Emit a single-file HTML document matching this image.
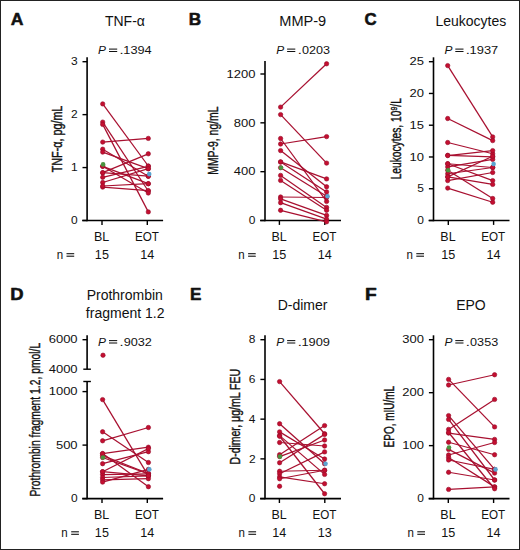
<!DOCTYPE html>
<html><head><meta charset="utf-8"><style>
html,body{margin:0;padding:0;background:#fff;}
svg{display:block;}
svg text{font-family:"Liberation Sans", sans-serif;fill:#111;}
</style></head><body>
<svg width="520" height="550" viewBox="0 0 520 550">
<rect x="0" y="0" width="520" height="550" fill="#fff"/>
<text x="10.71" y="25.20" font-size="17.0" font-weight="bold" font-style="normal" textLength="12.70" lengthAdjust="spacingAndGlyphs" stroke="#111" stroke-width="0.55" stroke-linejoin="round">A</text>
<text x="104.96" y="25.90" font-size="14" font-weight="normal" font-style="normal" textLength="39.97" lengthAdjust="spacingAndGlyphs" >TNF-α</text>
<text x="98.13" y="54.00" font-size="11.5" font-weight="normal" font-style="italic" textLength="7.94" lengthAdjust="spacingAndGlyphs" >P</text>
<line x1="109.00" y1="49.10" x2="117.20" y2="49.10" stroke="#111" stroke-width="1.05"/>
<line x1="109.00" y1="51.50" x2="117.20" y2="51.50" stroke="#111" stroke-width="1.05"/>
<text x="119.56" y="54.00" font-size="11.5" font-weight="normal" font-style="normal" textLength="4.09" lengthAdjust="spacingAndGlyphs" >.</text>
<text x="123.33" y="54.00" font-size="11.5" font-weight="normal" font-style="normal" textLength="28.34" lengthAdjust="spacingAndGlyphs" >1394</text>
<line x1="87.10" y1="57.30" x2="87.10" y2="221.25" stroke="#000" stroke-width="1.6"/>
<line x1="82.50" y1="220.50" x2="87.10" y2="220.50" stroke="#000" stroke-width="1.4"/>
<text x="70.91" y="224.20" font-size="11.4" font-weight="normal" font-style="normal" textLength="6.66" lengthAdjust="spacingAndGlyphs" >0</text>
<line x1="82.50" y1="167.57" x2="87.10" y2="167.57" stroke="#000" stroke-width="1.4"/>
<text x="71.03" y="171.27" font-size="11.4" font-weight="normal" font-style="normal" textLength="6.66" lengthAdjust="spacingAndGlyphs" >1</text>
<line x1="82.50" y1="114.63" x2="87.10" y2="114.63" stroke="#000" stroke-width="1.4"/>
<text x="71.04" y="118.33" font-size="11.4" font-weight="normal" font-style="normal" textLength="6.66" lengthAdjust="spacingAndGlyphs" >2</text>
<line x1="82.50" y1="61.70" x2="87.10" y2="61.70" stroke="#000" stroke-width="1.4"/>
<text x="70.97" y="65.40" font-size="11.4" font-weight="normal" font-style="normal" textLength="6.66" lengthAdjust="spacingAndGlyphs" >3</text>
<line x1="82.20" y1="220.50" x2="163.10" y2="220.50" stroke="#000" stroke-width="1.6"/>
<line x1="102.00" y1="220.50" x2="102.00" y2="224.90" stroke="#000" stroke-width="1.4"/>
<line x1="147.30" y1="220.50" x2="147.30" y2="224.90" stroke="#000" stroke-width="1.4"/>
<text transform="translate(61.60,172.00) rotate(-90)" x="-0.24" y="0" font-size="13.8" textLength="66.55" lengthAdjust="spacingAndGlyphs" stroke="#111" stroke-width="0.4">TNF-α, pg/mL</text>
<line x1="102.70" y1="103.90" x2="148.30" y2="166.00" stroke="#a81030" stroke-width="1.25"/>
<line x1="102.70" y1="122.10" x2="148.30" y2="191.00" stroke="#a81030" stroke-width="1.25"/>
<line x1="102.70" y1="124.40" x2="148.30" y2="211.90" stroke="#a81030" stroke-width="1.25"/>
<line x1="102.70" y1="142.10" x2="148.30" y2="138.40" stroke="#a81030" stroke-width="1.25"/>
<line x1="102.70" y1="149.20" x2="148.30" y2="176.20" stroke="#a81030" stroke-width="1.25"/>
<line x1="102.70" y1="152.10" x2="148.30" y2="168.70" stroke="#a81030" stroke-width="1.25"/>
<line x1="102.70" y1="166.30" x2="148.30" y2="183.70" stroke="#a81030" stroke-width="1.25"/>
<line x1="102.70" y1="172.70" x2="148.30" y2="153.80" stroke="#a81030" stroke-width="1.25"/>
<line x1="102.70" y1="177.30" x2="148.30" y2="166.30" stroke="#a81030" stroke-width="1.25"/>
<line x1="102.70" y1="182.50" x2="148.30" y2="168.70" stroke="#a81030" stroke-width="1.25"/>
<line x1="102.70" y1="187.10" x2="148.30" y2="190.60" stroke="#a81030" stroke-width="1.25"/>
<line x1="102.70" y1="166.30" x2="148.30" y2="193.00" stroke="#a81030" stroke-width="1.25"/>
<line x1="102.70" y1="172.70" x2="148.30" y2="176.20" stroke="#a81030" stroke-width="1.25"/>
<line x1="102.70" y1="186.00" x2="148.30" y2="183.70" stroke="#a81030" stroke-width="1.25"/>
<circle cx="102.7" cy="103.9" r="2.2" fill="#c40f30" stroke="#960c2a" stroke-width="0.6"/>
<circle cx="148.3" cy="166.0" r="2.2" fill="#c40f30" stroke="#960c2a" stroke-width="0.6"/>
<circle cx="102.7" cy="122.1" r="2.2" fill="#c40f30" stroke="#960c2a" stroke-width="0.6"/>
<circle cx="148.3" cy="191.0" r="2.2" fill="#c40f30" stroke="#960c2a" stroke-width="0.6"/>
<circle cx="102.7" cy="124.4" r="2.2" fill="#c40f30" stroke="#960c2a" stroke-width="0.6"/>
<circle cx="148.3" cy="211.9" r="2.2" fill="#c40f30" stroke="#960c2a" stroke-width="0.6"/>
<circle cx="102.7" cy="142.1" r="2.2" fill="#c40f30" stroke="#960c2a" stroke-width="0.6"/>
<circle cx="148.3" cy="138.4" r="2.2" fill="#c40f30" stroke="#960c2a" stroke-width="0.6"/>
<circle cx="102.7" cy="149.2" r="2.2" fill="#c40f30" stroke="#960c2a" stroke-width="0.6"/>
<circle cx="148.3" cy="176.2" r="2.2" fill="#c40f30" stroke="#960c2a" stroke-width="0.6"/>
<circle cx="102.7" cy="152.1" r="2.2" fill="#c40f30" stroke="#960c2a" stroke-width="0.6"/>
<circle cx="148.3" cy="168.7" r="2.2" fill="#c40f30" stroke="#960c2a" stroke-width="0.6"/>
<circle cx="102.7" cy="166.3" r="2.2" fill="#c40f30" stroke="#960c2a" stroke-width="0.6"/>
<circle cx="148.3" cy="183.7" r="2.2" fill="#c40f30" stroke="#960c2a" stroke-width="0.6"/>
<circle cx="102.7" cy="172.7" r="2.2" fill="#c40f30" stroke="#960c2a" stroke-width="0.6"/>
<circle cx="148.3" cy="153.8" r="2.2" fill="#c40f30" stroke="#960c2a" stroke-width="0.6"/>
<circle cx="102.7" cy="177.3" r="2.2" fill="#c40f30" stroke="#960c2a" stroke-width="0.6"/>
<circle cx="148.3" cy="166.3" r="2.2" fill="#c40f30" stroke="#960c2a" stroke-width="0.6"/>
<circle cx="102.7" cy="182.5" r="2.2" fill="#c40f30" stroke="#960c2a" stroke-width="0.6"/>
<circle cx="148.3" cy="168.7" r="2.2" fill="#c40f30" stroke="#960c2a" stroke-width="0.6"/>
<circle cx="102.7" cy="187.1" r="2.2" fill="#c40f30" stroke="#960c2a" stroke-width="0.6"/>
<circle cx="148.3" cy="190.6" r="2.2" fill="#c40f30" stroke="#960c2a" stroke-width="0.6"/>
<circle cx="102.7" cy="166.3" r="2.2" fill="#c40f30" stroke="#960c2a" stroke-width="0.6"/>
<circle cx="148.3" cy="193.0" r="2.2" fill="#c40f30" stroke="#960c2a" stroke-width="0.6"/>
<circle cx="102.7" cy="172.7" r="2.2" fill="#c40f30" stroke="#960c2a" stroke-width="0.6"/>
<circle cx="148.3" cy="176.2" r="2.2" fill="#c40f30" stroke="#960c2a" stroke-width="0.6"/>
<circle cx="102.7" cy="186.0" r="2.2" fill="#c40f30" stroke="#960c2a" stroke-width="0.6"/>
<circle cx="148.3" cy="183.7" r="2.2" fill="#c40f30" stroke="#960c2a" stroke-width="0.6"/>
<circle cx="103.10000000000001" cy="164.4" r="2.3" fill="#4a9440"/>
<circle cx="149.20000000000002" cy="174.1" r="2.3" fill="#5aa4d0"/>
<text x="94.06" y="240.60" font-size="12" font-weight="normal" font-style="normal" textLength="15.26" lengthAdjust="spacingAndGlyphs" >BL</text>
<text x="134.99" y="240.60" font-size="12" font-weight="normal" font-style="normal" textLength="23.93" lengthAdjust="spacingAndGlyphs" >EOT</text>
<text x="56.63" y="258.70" font-size="12" font-weight="normal" font-style="normal" textLength="6.42" lengthAdjust="spacingAndGlyphs" >n</text>
<line x1="66.50" y1="253.70" x2="74.20" y2="253.70" stroke="#111" stroke-width="1.1"/>
<line x1="66.50" y1="256.20" x2="74.20" y2="256.20" stroke="#111" stroke-width="1.1"/>
<text x="94.88" y="258.70" font-size="12" font-weight="normal" font-style="normal" textLength="14.02" lengthAdjust="spacingAndGlyphs" >15</text>
<text x="140.20" y="258.70" font-size="12" font-weight="normal" font-style="normal" textLength="14.02" lengthAdjust="spacingAndGlyphs" >14</text>
<text x="188.70" y="25.20" font-size="17.0" font-weight="bold" font-style="normal" textLength="12.43" lengthAdjust="spacingAndGlyphs" stroke="#111" stroke-width="0.55" stroke-linejoin="round">B</text>
<text x="279.29" y="25.90" font-size="14" font-weight="normal" font-style="normal" textLength="46.91" lengthAdjust="spacingAndGlyphs" >MMP-9</text>
<text x="276.23" y="54.00" font-size="11.5" font-weight="normal" font-style="italic" textLength="7.94" lengthAdjust="spacingAndGlyphs" >P</text>
<line x1="287.10" y1="49.10" x2="295.30" y2="49.10" stroke="#111" stroke-width="1.05"/>
<line x1="287.10" y1="51.50" x2="295.30" y2="51.50" stroke="#111" stroke-width="1.05"/>
<text x="297.66" y="54.00" font-size="11.5" font-weight="normal" font-style="normal" textLength="4.09" lengthAdjust="spacingAndGlyphs" >.</text>
<text x="301.91" y="54.00" font-size="11.5" font-weight="normal" font-style="normal" textLength="28.05" lengthAdjust="spacingAndGlyphs" >0203</text>
<line x1="265.00" y1="61.00" x2="265.00" y2="221.25" stroke="#000" stroke-width="1.6"/>
<line x1="260.40" y1="220.50" x2="265.00" y2="220.50" stroke="#000" stroke-width="1.4"/>
<text x="248.81" y="224.20" font-size="11.4" font-weight="normal" font-style="normal" textLength="6.66" lengthAdjust="spacingAndGlyphs" >0</text>
<line x1="260.40" y1="171.67" x2="265.00" y2="171.67" stroke="#000" stroke-width="1.4"/>
<text x="233.82" y="175.37" font-size="11.4" font-weight="normal" font-style="normal" textLength="21.68" lengthAdjust="spacingAndGlyphs" >400</text>
<line x1="260.40" y1="122.83" x2="265.00" y2="122.83" stroke="#000" stroke-width="1.4"/>
<text x="233.82" y="126.53" font-size="11.4" font-weight="normal" font-style="normal" textLength="21.68" lengthAdjust="spacingAndGlyphs" >800</text>
<line x1="260.40" y1="74.00" x2="265.00" y2="74.00" stroke="#000" stroke-width="1.4"/>
<text x="226.60" y="77.70" font-size="11.4" font-weight="normal" font-style="normal" textLength="28.91" lengthAdjust="spacingAndGlyphs" >1200</text>
<line x1="260.10" y1="220.50" x2="341.00" y2="220.50" stroke="#000" stroke-width="1.6"/>
<line x1="279.40" y1="220.50" x2="279.40" y2="224.90" stroke="#000" stroke-width="1.4"/>
<line x1="324.80" y1="220.50" x2="324.80" y2="224.90" stroke="#000" stroke-width="1.4"/>
<text transform="translate(218.30,173.90) rotate(-90)" x="-0.85" y="0" font-size="13.8" textLength="68.30" lengthAdjust="spacingAndGlyphs" stroke="#111" stroke-width="0.4">MMP-9, ng/mL</text>
<line x1="280.60" y1="107.10" x2="326.60" y2="63.80" stroke="#a81030" stroke-width="1.25"/>
<line x1="280.60" y1="114.60" x2="326.60" y2="163.10" stroke="#a81030" stroke-width="1.25"/>
<line x1="280.60" y1="138.50" x2="326.60" y2="201.40" stroke="#a81030" stroke-width="1.25"/>
<line x1="280.60" y1="144.00" x2="326.60" y2="136.60" stroke="#a81030" stroke-width="1.25"/>
<line x1="280.60" y1="150.60" x2="326.60" y2="186.80" stroke="#a81030" stroke-width="1.25"/>
<line x1="280.60" y1="161.90" x2="326.60" y2="178.90" stroke="#a81030" stroke-width="1.25"/>
<line x1="280.60" y1="162.00" x2="326.60" y2="191.90" stroke="#a81030" stroke-width="1.25"/>
<line x1="280.60" y1="175.40" x2="326.60" y2="207.40" stroke="#a81030" stroke-width="1.25"/>
<line x1="280.60" y1="180.40" x2="326.60" y2="210.30" stroke="#a81030" stroke-width="1.25"/>
<line x1="280.60" y1="197.00" x2="326.60" y2="197.50" stroke="#a81030" stroke-width="1.25"/>
<line x1="280.60" y1="198.90" x2="326.60" y2="215.40" stroke="#a81030" stroke-width="1.25"/>
<line x1="280.60" y1="202.70" x2="326.60" y2="219.20" stroke="#a81030" stroke-width="1.25"/>
<line x1="280.60" y1="210.30" x2="326.60" y2="221.80" stroke="#a81030" stroke-width="1.25"/>
<line x1="280.60" y1="167.70" x2="326.60" y2="196.30" stroke="#a81030" stroke-width="1.25"/>
<circle cx="280.6" cy="107.1" r="2.2" fill="#c40f30" stroke="#960c2a" stroke-width="0.6"/>
<circle cx="326.6" cy="63.8" r="2.2" fill="#c40f30" stroke="#960c2a" stroke-width="0.6"/>
<circle cx="280.6" cy="114.6" r="2.2" fill="#c40f30" stroke="#960c2a" stroke-width="0.6"/>
<circle cx="326.6" cy="163.1" r="2.2" fill="#c40f30" stroke="#960c2a" stroke-width="0.6"/>
<circle cx="280.6" cy="138.5" r="2.2" fill="#c40f30" stroke="#960c2a" stroke-width="0.6"/>
<circle cx="326.6" cy="201.4" r="2.2" fill="#c40f30" stroke="#960c2a" stroke-width="0.6"/>
<circle cx="280.6" cy="144.0" r="2.2" fill="#c40f30" stroke="#960c2a" stroke-width="0.6"/>
<circle cx="326.6" cy="136.6" r="2.2" fill="#c40f30" stroke="#960c2a" stroke-width="0.6"/>
<circle cx="280.6" cy="150.6" r="2.2" fill="#c40f30" stroke="#960c2a" stroke-width="0.6"/>
<circle cx="326.6" cy="186.8" r="2.2" fill="#c40f30" stroke="#960c2a" stroke-width="0.6"/>
<circle cx="280.6" cy="161.9" r="2.2" fill="#c40f30" stroke="#960c2a" stroke-width="0.6"/>
<circle cx="326.6" cy="178.9" r="2.2" fill="#c40f30" stroke="#960c2a" stroke-width="0.6"/>
<circle cx="280.6" cy="162.0" r="2.2" fill="#c40f30" stroke="#960c2a" stroke-width="0.6"/>
<circle cx="326.6" cy="191.9" r="2.2" fill="#c40f30" stroke="#960c2a" stroke-width="0.6"/>
<circle cx="280.6" cy="175.4" r="2.2" fill="#c40f30" stroke="#960c2a" stroke-width="0.6"/>
<circle cx="326.6" cy="207.4" r="2.2" fill="#c40f30" stroke="#960c2a" stroke-width="0.6"/>
<circle cx="280.6" cy="180.4" r="2.2" fill="#c40f30" stroke="#960c2a" stroke-width="0.6"/>
<circle cx="326.6" cy="210.3" r="2.2" fill="#c40f30" stroke="#960c2a" stroke-width="0.6"/>
<circle cx="280.6" cy="197.0" r="2.2" fill="#c40f30" stroke="#960c2a" stroke-width="0.6"/>
<circle cx="326.6" cy="197.5" r="2.2" fill="#c40f30" stroke="#960c2a" stroke-width="0.6"/>
<circle cx="280.6" cy="198.9" r="2.2" fill="#c40f30" stroke="#960c2a" stroke-width="0.6"/>
<circle cx="326.6" cy="215.4" r="2.2" fill="#c40f30" stroke="#960c2a" stroke-width="0.6"/>
<circle cx="280.6" cy="202.7" r="2.2" fill="#c40f30" stroke="#960c2a" stroke-width="0.6"/>
<circle cx="326.6" cy="219.2" r="2.2" fill="#c40f30" stroke="#960c2a" stroke-width="0.6"/>
<circle cx="280.6" cy="210.3" r="2.2" fill="#c40f30" stroke="#960c2a" stroke-width="0.6"/>
<circle cx="326.6" cy="221.8" r="2.2" fill="#c40f30" stroke="#960c2a" stroke-width="0.6"/>
<circle cx="280.6" cy="167.7" r="2.2" fill="#c40f30" stroke="#960c2a" stroke-width="0.6"/>
<circle cx="326.6" cy="196.3" r="2.2" fill="#c40f30" stroke="#960c2a" stroke-width="0.6"/>
<circle cx="281.0" cy="167.7" r="2.3" fill="#4a9440"/>
<circle cx="327.5" cy="196.3" r="2.3" fill="#5aa4d0"/>
<text x="271.46" y="240.60" font-size="12" font-weight="normal" font-style="normal" textLength="15.26" lengthAdjust="spacingAndGlyphs" >BL</text>
<text x="312.49" y="240.60" font-size="12" font-weight="normal" font-style="normal" textLength="23.93" lengthAdjust="spacingAndGlyphs" >EOT</text>
<text x="238.23" y="258.70" font-size="12" font-weight="normal" font-style="normal" textLength="6.42" lengthAdjust="spacingAndGlyphs" >n</text>
<line x1="248.10" y1="253.70" x2="255.80" y2="253.70" stroke="#111" stroke-width="1.1"/>
<line x1="248.10" y1="256.20" x2="255.80" y2="256.20" stroke="#111" stroke-width="1.1"/>
<text x="272.28" y="258.70" font-size="12" font-weight="normal" font-style="normal" textLength="14.02" lengthAdjust="spacingAndGlyphs" >15</text>
<text x="317.70" y="258.70" font-size="12" font-weight="normal" font-style="normal" textLength="14.02" lengthAdjust="spacingAndGlyphs" >14</text>
<text x="364.46" y="25.20" font-size="17.0" font-weight="bold" font-style="normal" textLength="12.15" lengthAdjust="spacingAndGlyphs" stroke="#111" stroke-width="0.55" stroke-linejoin="round">C</text>
<text x="435.47" y="25.90" font-size="14" font-weight="normal" font-style="normal" textLength="70.82" lengthAdjust="spacingAndGlyphs" >Leukocytes</text>
<text x="444.43" y="54.00" font-size="11.5" font-weight="normal" font-style="italic" textLength="7.94" lengthAdjust="spacingAndGlyphs" >P</text>
<line x1="455.30" y1="49.10" x2="463.50" y2="49.10" stroke="#111" stroke-width="1.05"/>
<line x1="455.30" y1="51.50" x2="463.50" y2="51.50" stroke="#111" stroke-width="1.05"/>
<text x="465.86" y="54.00" font-size="11.5" font-weight="normal" font-style="normal" textLength="4.09" lengthAdjust="spacingAndGlyphs" >.</text>
<text x="469.62" y="54.00" font-size="11.5" font-weight="normal" font-style="normal" textLength="28.63" lengthAdjust="spacingAndGlyphs" >1937</text>
<line x1="433.50" y1="57.30" x2="433.50" y2="221.25" stroke="#000" stroke-width="1.6"/>
<line x1="428.90" y1="220.50" x2="433.50" y2="220.50" stroke="#000" stroke-width="1.4"/>
<text x="417.31" y="224.20" font-size="11.4" font-weight="normal" font-style="normal" textLength="6.66" lengthAdjust="spacingAndGlyphs" >0</text>
<line x1="428.90" y1="188.74" x2="433.50" y2="188.74" stroke="#000" stroke-width="1.4"/>
<text x="417.35" y="192.44" font-size="11.4" font-weight="normal" font-style="normal" textLength="6.66" lengthAdjust="spacingAndGlyphs" >5</text>
<line x1="428.90" y1="156.98" x2="433.50" y2="156.98" stroke="#000" stroke-width="1.4"/>
<text x="409.55" y="160.68" font-size="11.4" font-weight="normal" font-style="normal" textLength="14.46" lengthAdjust="spacingAndGlyphs" >10</text>
<line x1="428.90" y1="125.22" x2="433.50" y2="125.22" stroke="#000" stroke-width="1.4"/>
<text x="409.59" y="128.92" font-size="11.4" font-weight="normal" font-style="normal" textLength="14.46" lengthAdjust="spacingAndGlyphs" >15</text>
<line x1="428.90" y1="93.46" x2="433.50" y2="93.46" stroke="#000" stroke-width="1.4"/>
<text x="409.55" y="97.16" font-size="11.4" font-weight="normal" font-style="normal" textLength="14.46" lengthAdjust="spacingAndGlyphs" >20</text>
<line x1="428.90" y1="61.70" x2="433.50" y2="61.70" stroke="#000" stroke-width="1.4"/>
<text x="409.59" y="65.40" font-size="11.4" font-weight="normal" font-style="normal" textLength="14.46" lengthAdjust="spacingAndGlyphs" >25</text>
<line x1="428.60" y1="220.50" x2="509.50" y2="220.50" stroke="#000" stroke-width="1.6"/>
<line x1="448.30" y1="220.50" x2="448.30" y2="224.90" stroke="#000" stroke-width="1.4"/>
<line x1="493.60" y1="220.50" x2="493.60" y2="224.90" stroke="#000" stroke-width="1.4"/>
<text transform="translate(401.30,178.50) rotate(-90)" x="-0.82" y="0" font-size="13.8" textLength="81.15" lengthAdjust="spacingAndGlyphs" stroke="#111" stroke-width="0.4">Leukocytes, 10<tspan font-size="9.5" dy="-4.6">9</tspan><tspan dy="4.6">/L</tspan></text>
<line x1="447.70" y1="65.60" x2="492.70" y2="136.90" stroke="#a81030" stroke-width="1.25"/>
<line x1="447.70" y1="118.50" x2="492.70" y2="140.60" stroke="#a81030" stroke-width="1.25"/>
<line x1="447.70" y1="142.50" x2="492.70" y2="153.75" stroke="#a81030" stroke-width="1.25"/>
<line x1="447.70" y1="155.30" x2="492.70" y2="156.90" stroke="#a81030" stroke-width="1.25"/>
<line x1="447.70" y1="163.75" x2="492.70" y2="180.60" stroke="#a81030" stroke-width="1.25"/>
<line x1="447.70" y1="166.90" x2="492.70" y2="159.40" stroke="#a81030" stroke-width="1.25"/>
<line x1="447.70" y1="173.75" x2="492.70" y2="167.50" stroke="#a81030" stroke-width="1.25"/>
<line x1="447.70" y1="176.90" x2="492.70" y2="184.40" stroke="#a81030" stroke-width="1.25"/>
<line x1="447.70" y1="180.60" x2="492.70" y2="172.50" stroke="#a81030" stroke-width="1.25"/>
<line x1="447.70" y1="188.10" x2="492.70" y2="202.25" stroke="#a81030" stroke-width="1.25"/>
<line x1="447.70" y1="170.25" x2="492.70" y2="198.50" stroke="#a81030" stroke-width="1.25"/>
<line x1="447.70" y1="155.60" x2="492.70" y2="150.60" stroke="#a81030" stroke-width="1.25"/>
<line x1="447.70" y1="163.75" x2="492.70" y2="167.50" stroke="#a81030" stroke-width="1.25"/>
<line x1="447.70" y1="176.90" x2="492.70" y2="156.25" stroke="#a81030" stroke-width="1.25"/>
<circle cx="447.7" cy="65.6" r="2.2" fill="#c40f30" stroke="#960c2a" stroke-width="0.6"/>
<circle cx="492.7" cy="136.9" r="2.2" fill="#c40f30" stroke="#960c2a" stroke-width="0.6"/>
<circle cx="447.7" cy="118.5" r="2.2" fill="#c40f30" stroke="#960c2a" stroke-width="0.6"/>
<circle cx="492.7" cy="140.6" r="2.2" fill="#c40f30" stroke="#960c2a" stroke-width="0.6"/>
<circle cx="447.7" cy="142.5" r="2.2" fill="#c40f30" stroke="#960c2a" stroke-width="0.6"/>
<circle cx="492.7" cy="153.75" r="2.2" fill="#c40f30" stroke="#960c2a" stroke-width="0.6"/>
<circle cx="447.7" cy="155.3" r="2.2" fill="#c40f30" stroke="#960c2a" stroke-width="0.6"/>
<circle cx="492.7" cy="156.9" r="2.2" fill="#c40f30" stroke="#960c2a" stroke-width="0.6"/>
<circle cx="447.7" cy="163.75" r="2.2" fill="#c40f30" stroke="#960c2a" stroke-width="0.6"/>
<circle cx="492.7" cy="180.6" r="2.2" fill="#c40f30" stroke="#960c2a" stroke-width="0.6"/>
<circle cx="447.7" cy="166.9" r="2.2" fill="#c40f30" stroke="#960c2a" stroke-width="0.6"/>
<circle cx="492.7" cy="159.4" r="2.2" fill="#c40f30" stroke="#960c2a" stroke-width="0.6"/>
<circle cx="447.7" cy="173.75" r="2.2" fill="#c40f30" stroke="#960c2a" stroke-width="0.6"/>
<circle cx="492.7" cy="167.5" r="2.2" fill="#c40f30" stroke="#960c2a" stroke-width="0.6"/>
<circle cx="447.7" cy="176.9" r="2.2" fill="#c40f30" stroke="#960c2a" stroke-width="0.6"/>
<circle cx="492.7" cy="184.4" r="2.2" fill="#c40f30" stroke="#960c2a" stroke-width="0.6"/>
<circle cx="447.7" cy="180.6" r="2.2" fill="#c40f30" stroke="#960c2a" stroke-width="0.6"/>
<circle cx="492.7" cy="172.5" r="2.2" fill="#c40f30" stroke="#960c2a" stroke-width="0.6"/>
<circle cx="447.7" cy="188.1" r="2.2" fill="#c40f30" stroke="#960c2a" stroke-width="0.6"/>
<circle cx="492.7" cy="202.25" r="2.2" fill="#c40f30" stroke="#960c2a" stroke-width="0.6"/>
<circle cx="447.7" cy="170.25" r="2.2" fill="#c40f30" stroke="#960c2a" stroke-width="0.6"/>
<circle cx="492.7" cy="198.5" r="2.2" fill="#c40f30" stroke="#960c2a" stroke-width="0.6"/>
<circle cx="447.7" cy="155.6" r="2.2" fill="#c40f30" stroke="#960c2a" stroke-width="0.6"/>
<circle cx="492.7" cy="150.6" r="2.2" fill="#c40f30" stroke="#960c2a" stroke-width="0.6"/>
<circle cx="447.7" cy="163.75" r="2.2" fill="#c40f30" stroke="#960c2a" stroke-width="0.6"/>
<circle cx="492.7" cy="167.5" r="2.2" fill="#c40f30" stroke="#960c2a" stroke-width="0.6"/>
<circle cx="447.7" cy="176.9" r="2.2" fill="#c40f30" stroke="#960c2a" stroke-width="0.6"/>
<circle cx="492.7" cy="156.25" r="2.2" fill="#c40f30" stroke="#960c2a" stroke-width="0.6"/>
<circle cx="448.09999999999997" cy="170.25" r="2.3" fill="#4a9440"/>
<circle cx="493.59999999999997" cy="164.0" r="2.3" fill="#5aa4d0"/>
<text x="440.36" y="240.60" font-size="12" font-weight="normal" font-style="normal" textLength="15.26" lengthAdjust="spacingAndGlyphs" >BL</text>
<text x="481.29" y="240.60" font-size="12" font-weight="normal" font-style="normal" textLength="23.93" lengthAdjust="spacingAndGlyphs" >EOT</text>
<text x="406.43" y="258.70" font-size="12" font-weight="normal" font-style="normal" textLength="6.42" lengthAdjust="spacingAndGlyphs" >n</text>
<line x1="416.30" y1="253.70" x2="424.00" y2="253.70" stroke="#111" stroke-width="1.1"/>
<line x1="416.30" y1="256.20" x2="424.00" y2="256.20" stroke="#111" stroke-width="1.1"/>
<text x="441.18" y="258.70" font-size="12" font-weight="normal" font-style="normal" textLength="14.02" lengthAdjust="spacingAndGlyphs" >15</text>
<text x="486.50" y="258.70" font-size="12" font-weight="normal" font-style="normal" textLength="14.02" lengthAdjust="spacingAndGlyphs" >14</text>
<text x="10.22" y="299.60" font-size="17.0" font-weight="bold" font-style="normal" textLength="13.31" lengthAdjust="spacingAndGlyphs" stroke="#111" stroke-width="0.55" stroke-linejoin="round">D</text>
<text x="86.65" y="299.90" font-size="14" font-weight="normal" font-style="normal" textLength="76.25" lengthAdjust="spacingAndGlyphs" >Prothrombin</text>
<text x="85.85" y="318.00" font-size="14" font-weight="normal" font-style="normal" textLength="78.60" lengthAdjust="spacingAndGlyphs" >fragment 1.2</text>
<text x="98.13" y="345.50" font-size="11.5" font-weight="normal" font-style="italic" textLength="7.94" lengthAdjust="spacingAndGlyphs" >P</text>
<line x1="109.00" y1="340.60" x2="117.20" y2="340.60" stroke="#111" stroke-width="1.05"/>
<line x1="109.00" y1="343.00" x2="117.20" y2="343.00" stroke="#111" stroke-width="1.05"/>
<text x="119.56" y="345.50" font-size="11.5" font-weight="normal" font-style="normal" textLength="4.09" lengthAdjust="spacingAndGlyphs" >.</text>
<text x="123.71" y="345.50" font-size="11.5" font-weight="normal" font-style="normal" textLength="28.23" lengthAdjust="spacingAndGlyphs" >9032</text>
<line x1="87.10" y1="335.30" x2="87.10" y2="369.20" stroke="#000" stroke-width="1.6"/>
<line x1="83.30" y1="369.20" x2="90.90" y2="369.20" stroke="#000" stroke-width="1.4"/>
<line x1="82.50" y1="339.70" x2="87.10" y2="339.70" stroke="#000" stroke-width="1.4"/>
<text x="48.70" y="343.40" font-size="11.4" font-weight="normal" font-style="normal" textLength="28.91" lengthAdjust="spacingAndGlyphs" >6000</text>
<text x="48.70" y="372.90" font-size="11.4" font-weight="normal" font-style="normal" textLength="28.91" lengthAdjust="spacingAndGlyphs" >4000</text>
<line x1="83.30" y1="381.50" x2="90.90" y2="381.50" stroke="#000" stroke-width="1.4"/>
<line x1="87.10" y1="381.50" x2="87.10" y2="499.35" stroke="#000" stroke-width="1.6"/>
<line x1="82.50" y1="498.60" x2="87.10" y2="498.60" stroke="#000" stroke-width="1.4"/>
<text x="70.91" y="502.30" font-size="11.4" font-weight="normal" font-style="normal" textLength="6.66" lengthAdjust="spacingAndGlyphs" >0</text>
<line x1="82.50" y1="445.10" x2="87.10" y2="445.10" stroke="#000" stroke-width="1.4"/>
<text x="55.92" y="448.80" font-size="11.4" font-weight="normal" font-style="normal" textLength="21.68" lengthAdjust="spacingAndGlyphs" >500</text>
<line x1="82.50" y1="391.60" x2="87.10" y2="391.60" stroke="#000" stroke-width="1.4"/>
<text x="48.70" y="395.30" font-size="11.4" font-weight="normal" font-style="normal" textLength="28.91" lengthAdjust="spacingAndGlyphs" >1000</text>
<line x1="82.20" y1="498.60" x2="163.10" y2="498.60" stroke="#000" stroke-width="1.6"/>
<line x1="102.00" y1="498.60" x2="102.00" y2="503.00" stroke="#000" stroke-width="1.4"/>
<line x1="147.30" y1="498.60" x2="147.30" y2="503.00" stroke="#000" stroke-width="1.4"/>
<text transform="translate(40.40,495.70) rotate(-90)" x="-0.85" y="0" font-size="13.8" textLength="153.69" lengthAdjust="spacingAndGlyphs" stroke="#111" stroke-width="0.4">Prothrombin fragment 1.2, pmol/L</text>
<circle cx="103.0" cy="355.2" r="2.2" fill="#c40f30" stroke="#960c2a" stroke-width="0.6"/>
<line x1="102.60" y1="399.60" x2="148.40" y2="475.90" stroke="#a81030" stroke-width="1.25"/>
<line x1="102.60" y1="431.80" x2="148.40" y2="462.50" stroke="#a81030" stroke-width="1.25"/>
<line x1="102.60" y1="440.80" x2="148.40" y2="427.50" stroke="#a81030" stroke-width="1.25"/>
<line x1="102.60" y1="453.60" x2="148.40" y2="447.20" stroke="#a81030" stroke-width="1.25"/>
<line x1="102.60" y1="455.60" x2="148.40" y2="473.50" stroke="#a81030" stroke-width="1.25"/>
<line x1="102.60" y1="463.70" x2="148.40" y2="451.70" stroke="#a81030" stroke-width="1.25"/>
<line x1="102.60" y1="471.70" x2="148.40" y2="448.60" stroke="#a81030" stroke-width="1.25"/>
<line x1="102.60" y1="474.60" x2="148.40" y2="473.90" stroke="#a81030" stroke-width="1.25"/>
<line x1="102.60" y1="477.50" x2="148.40" y2="475.80" stroke="#a81030" stroke-width="1.25"/>
<line x1="102.60" y1="479.80" x2="148.40" y2="478.70" stroke="#a81030" stroke-width="1.25"/>
<line x1="102.60" y1="482.10" x2="148.40" y2="469.40" stroke="#a81030" stroke-width="1.25"/>
<line x1="102.60" y1="453.60" x2="148.40" y2="486.70" stroke="#a81030" stroke-width="1.25"/>
<line x1="102.60" y1="457.50" x2="148.40" y2="473.90" stroke="#a81030" stroke-width="1.25"/>
<line x1="102.60" y1="471.70" x2="148.40" y2="475.80" stroke="#a81030" stroke-width="1.25"/>
<circle cx="102.6" cy="399.6" r="2.2" fill="#c40f30" stroke="#960c2a" stroke-width="0.6"/>
<circle cx="148.4" cy="475.9" r="2.2" fill="#c40f30" stroke="#960c2a" stroke-width="0.6"/>
<circle cx="102.6" cy="431.8" r="2.2" fill="#c40f30" stroke="#960c2a" stroke-width="0.6"/>
<circle cx="148.4" cy="462.5" r="2.2" fill="#c40f30" stroke="#960c2a" stroke-width="0.6"/>
<circle cx="102.6" cy="440.8" r="2.2" fill="#c40f30" stroke="#960c2a" stroke-width="0.6"/>
<circle cx="148.4" cy="427.5" r="2.2" fill="#c40f30" stroke="#960c2a" stroke-width="0.6"/>
<circle cx="102.6" cy="453.6" r="2.2" fill="#c40f30" stroke="#960c2a" stroke-width="0.6"/>
<circle cx="148.4" cy="447.2" r="2.2" fill="#c40f30" stroke="#960c2a" stroke-width="0.6"/>
<circle cx="102.6" cy="455.6" r="2.2" fill="#c40f30" stroke="#960c2a" stroke-width="0.6"/>
<circle cx="148.4" cy="473.5" r="2.2" fill="#c40f30" stroke="#960c2a" stroke-width="0.6"/>
<circle cx="102.6" cy="463.7" r="2.2" fill="#c40f30" stroke="#960c2a" stroke-width="0.6"/>
<circle cx="148.4" cy="451.7" r="2.2" fill="#c40f30" stroke="#960c2a" stroke-width="0.6"/>
<circle cx="102.6" cy="471.7" r="2.2" fill="#c40f30" stroke="#960c2a" stroke-width="0.6"/>
<circle cx="148.4" cy="448.6" r="2.2" fill="#c40f30" stroke="#960c2a" stroke-width="0.6"/>
<circle cx="102.6" cy="474.6" r="2.2" fill="#c40f30" stroke="#960c2a" stroke-width="0.6"/>
<circle cx="148.4" cy="473.9" r="2.2" fill="#c40f30" stroke="#960c2a" stroke-width="0.6"/>
<circle cx="102.6" cy="477.5" r="2.2" fill="#c40f30" stroke="#960c2a" stroke-width="0.6"/>
<circle cx="148.4" cy="475.8" r="2.2" fill="#c40f30" stroke="#960c2a" stroke-width="0.6"/>
<circle cx="102.6" cy="479.8" r="2.2" fill="#c40f30" stroke="#960c2a" stroke-width="0.6"/>
<circle cx="148.4" cy="478.7" r="2.2" fill="#c40f30" stroke="#960c2a" stroke-width="0.6"/>
<circle cx="102.6" cy="482.1" r="2.2" fill="#c40f30" stroke="#960c2a" stroke-width="0.6"/>
<circle cx="148.4" cy="469.4" r="2.2" fill="#c40f30" stroke="#960c2a" stroke-width="0.6"/>
<circle cx="102.6" cy="453.6" r="2.2" fill="#c40f30" stroke="#960c2a" stroke-width="0.6"/>
<circle cx="148.4" cy="486.7" r="2.2" fill="#c40f30" stroke="#960c2a" stroke-width="0.6"/>
<circle cx="102.6" cy="457.5" r="2.2" fill="#c40f30" stroke="#960c2a" stroke-width="0.6"/>
<circle cx="148.4" cy="473.9" r="2.2" fill="#c40f30" stroke="#960c2a" stroke-width="0.6"/>
<circle cx="102.6" cy="471.7" r="2.2" fill="#c40f30" stroke="#960c2a" stroke-width="0.6"/>
<circle cx="148.4" cy="475.8" r="2.2" fill="#c40f30" stroke="#960c2a" stroke-width="0.6"/>
<circle cx="103.0" cy="457.5" r="2.3" fill="#4a9440"/>
<circle cx="149.3" cy="469.4" r="2.3" fill="#5aa4d0"/>
<text x="94.06" y="518.70" font-size="12" font-weight="normal" font-style="normal" textLength="15.26" lengthAdjust="spacingAndGlyphs" >BL</text>
<text x="134.99" y="518.70" font-size="12" font-weight="normal" font-style="normal" textLength="23.93" lengthAdjust="spacingAndGlyphs" >EOT</text>
<text x="61.33" y="536.80" font-size="12" font-weight="normal" font-style="normal" textLength="6.42" lengthAdjust="spacingAndGlyphs" >n</text>
<line x1="71.20" y1="531.80" x2="78.90" y2="531.80" stroke="#111" stroke-width="1.1"/>
<line x1="71.20" y1="534.30" x2="78.90" y2="534.30" stroke="#111" stroke-width="1.1"/>
<text x="94.88" y="536.80" font-size="12" font-weight="normal" font-style="normal" textLength="14.02" lengthAdjust="spacingAndGlyphs" >15</text>
<text x="140.20" y="536.80" font-size="12" font-weight="normal" font-style="normal" textLength="14.02" lengthAdjust="spacingAndGlyphs" >14</text>
<text x="190.01" y="299.60" font-size="17.0" font-weight="bold" font-style="normal" textLength="11.41" lengthAdjust="spacingAndGlyphs" stroke="#111" stroke-width="0.55" stroke-linejoin="round">E</text>
<text x="277.65" y="309.60" font-size="14" font-weight="normal" font-style="normal" textLength="49.78" lengthAdjust="spacingAndGlyphs" >D-dimer</text>
<text x="276.23" y="345.50" font-size="11.5" font-weight="normal" font-style="italic" textLength="7.94" lengthAdjust="spacingAndGlyphs" >P</text>
<line x1="287.10" y1="340.60" x2="295.30" y2="340.60" stroke="#111" stroke-width="1.05"/>
<line x1="287.10" y1="343.00" x2="295.30" y2="343.00" stroke="#111" stroke-width="1.05"/>
<text x="297.66" y="345.50" font-size="11.5" font-weight="normal" font-style="normal" textLength="4.09" lengthAdjust="spacingAndGlyphs" >.</text>
<text x="301.42" y="345.50" font-size="11.5" font-weight="normal" font-style="normal" textLength="28.59" lengthAdjust="spacingAndGlyphs" >1909</text>
<line x1="265.00" y1="335.30" x2="265.00" y2="499.35" stroke="#000" stroke-width="1.6"/>
<line x1="260.40" y1="498.60" x2="265.00" y2="498.60" stroke="#000" stroke-width="1.4"/>
<text x="248.81" y="502.30" font-size="11.4" font-weight="normal" font-style="normal" textLength="6.66" lengthAdjust="spacingAndGlyphs" >0</text>
<line x1="260.40" y1="458.88" x2="265.00" y2="458.88" stroke="#000" stroke-width="1.4"/>
<text x="248.94" y="462.57" font-size="11.4" font-weight="normal" font-style="normal" textLength="6.66" lengthAdjust="spacingAndGlyphs" >2</text>
<line x1="260.40" y1="419.15" x2="265.00" y2="419.15" stroke="#000" stroke-width="1.4"/>
<text x="248.69" y="422.85" font-size="11.4" font-weight="normal" font-style="normal" textLength="6.66" lengthAdjust="spacingAndGlyphs" >4</text>
<line x1="260.40" y1="379.43" x2="265.00" y2="379.43" stroke="#000" stroke-width="1.4"/>
<text x="248.87" y="383.12" font-size="11.4" font-weight="normal" font-style="normal" textLength="6.66" lengthAdjust="spacingAndGlyphs" >6</text>
<line x1="260.40" y1="339.70" x2="265.00" y2="339.70" stroke="#000" stroke-width="1.4"/>
<text x="248.86" y="343.40" font-size="11.4" font-weight="normal" font-style="normal" textLength="6.66" lengthAdjust="spacingAndGlyphs" >8</text>
<line x1="260.10" y1="498.60" x2="341.00" y2="498.60" stroke="#000" stroke-width="1.6"/>
<line x1="279.40" y1="498.60" x2="279.40" y2="503.00" stroke="#000" stroke-width="1.4"/>
<line x1="324.80" y1="498.60" x2="324.80" y2="503.00" stroke="#000" stroke-width="1.4"/>
<text transform="translate(239.60,463.60) rotate(-90)" x="-0.85" y="0" font-size="13.8" textLength="95.45" lengthAdjust="spacingAndGlyphs" stroke="#111" stroke-width="0.4">D-dimer, μg/mL FEU</text>
<line x1="279.60" y1="381.60" x2="324.60" y2="433.75" stroke="#a81030" stroke-width="1.25"/>
<line x1="279.60" y1="423.75" x2="324.60" y2="463.75" stroke="#a81030" stroke-width="1.25"/>
<line x1="279.60" y1="431.90" x2="324.60" y2="459.00" stroke="#a81030" stroke-width="1.25"/>
<line x1="279.60" y1="435.60" x2="324.60" y2="474.40" stroke="#a81030" stroke-width="1.25"/>
<line x1="279.60" y1="442.50" x2="324.60" y2="446.00" stroke="#a81030" stroke-width="1.25"/>
<line x1="279.60" y1="454.75" x2="324.60" y2="425.60" stroke="#a81030" stroke-width="1.25"/>
<line x1="279.60" y1="462.75" x2="324.60" y2="434.40" stroke="#a81030" stroke-width="1.25"/>
<line x1="279.60" y1="471.25" x2="324.60" y2="470.25" stroke="#a81030" stroke-width="1.25"/>
<line x1="279.60" y1="473.75" x2="324.60" y2="451.90" stroke="#a81030" stroke-width="1.25"/>
<line x1="279.60" y1="476.90" x2="324.60" y2="483.75" stroke="#a81030" stroke-width="1.25"/>
<line x1="279.60" y1="478.75" x2="324.60" y2="470.25" stroke="#a81030" stroke-width="1.25"/>
<line x1="279.60" y1="436.25" x2="324.60" y2="493.75" stroke="#a81030" stroke-width="1.25"/>
<line x1="279.60" y1="456.60" x2="324.60" y2="440.00" stroke="#a81030" stroke-width="1.25"/>
<circle cx="279.6" cy="381.6" r="2.2" fill="#c40f30" stroke="#960c2a" stroke-width="0.6"/>
<circle cx="324.6" cy="433.75" r="2.2" fill="#c40f30" stroke="#960c2a" stroke-width="0.6"/>
<circle cx="279.6" cy="423.75" r="2.2" fill="#c40f30" stroke="#960c2a" stroke-width="0.6"/>
<circle cx="324.6" cy="463.75" r="2.2" fill="#c40f30" stroke="#960c2a" stroke-width="0.6"/>
<circle cx="279.6" cy="431.9" r="2.2" fill="#c40f30" stroke="#960c2a" stroke-width="0.6"/>
<circle cx="324.6" cy="459.0" r="2.2" fill="#c40f30" stroke="#960c2a" stroke-width="0.6"/>
<circle cx="279.6" cy="435.6" r="2.2" fill="#c40f30" stroke="#960c2a" stroke-width="0.6"/>
<circle cx="324.6" cy="474.4" r="2.2" fill="#c40f30" stroke="#960c2a" stroke-width="0.6"/>
<circle cx="279.6" cy="442.5" r="2.2" fill="#c40f30" stroke="#960c2a" stroke-width="0.6"/>
<circle cx="324.6" cy="446.0" r="2.2" fill="#c40f30" stroke="#960c2a" stroke-width="0.6"/>
<circle cx="279.6" cy="454.75" r="2.2" fill="#c40f30" stroke="#960c2a" stroke-width="0.6"/>
<circle cx="324.6" cy="425.6" r="2.2" fill="#c40f30" stroke="#960c2a" stroke-width="0.6"/>
<circle cx="279.6" cy="462.75" r="2.2" fill="#c40f30" stroke="#960c2a" stroke-width="0.6"/>
<circle cx="324.6" cy="434.4" r="2.2" fill="#c40f30" stroke="#960c2a" stroke-width="0.6"/>
<circle cx="279.6" cy="471.25" r="2.2" fill="#c40f30" stroke="#960c2a" stroke-width="0.6"/>
<circle cx="324.6" cy="470.25" r="2.2" fill="#c40f30" stroke="#960c2a" stroke-width="0.6"/>
<circle cx="279.6" cy="473.75" r="2.2" fill="#c40f30" stroke="#960c2a" stroke-width="0.6"/>
<circle cx="324.6" cy="451.9" r="2.2" fill="#c40f30" stroke="#960c2a" stroke-width="0.6"/>
<circle cx="279.6" cy="476.9" r="2.2" fill="#c40f30" stroke="#960c2a" stroke-width="0.6"/>
<circle cx="324.6" cy="483.75" r="2.2" fill="#c40f30" stroke="#960c2a" stroke-width="0.6"/>
<circle cx="279.6" cy="478.75" r="2.2" fill="#c40f30" stroke="#960c2a" stroke-width="0.6"/>
<circle cx="324.6" cy="470.25" r="2.2" fill="#c40f30" stroke="#960c2a" stroke-width="0.6"/>
<circle cx="279.6" cy="436.25" r="2.2" fill="#c40f30" stroke="#960c2a" stroke-width="0.6"/>
<circle cx="324.6" cy="493.75" r="2.2" fill="#c40f30" stroke="#960c2a" stroke-width="0.6"/>
<circle cx="279.6" cy="456.6" r="2.2" fill="#c40f30" stroke="#960c2a" stroke-width="0.6"/>
<circle cx="324.6" cy="440.0" r="2.2" fill="#c40f30" stroke="#960c2a" stroke-width="0.6"/>
<circle cx="279.6" cy="486.25" r="2.2" fill="#c40f30" stroke="#960c2a" stroke-width="0.6"/>
<circle cx="280.0" cy="456.6" r="2.3" fill="#4a9440"/>
<circle cx="325.5" cy="463.75" r="2.3" fill="#5aa4d0"/>
<text x="271.46" y="518.70" font-size="12" font-weight="normal" font-style="normal" textLength="15.26" lengthAdjust="spacingAndGlyphs" >BL</text>
<text x="312.49" y="518.70" font-size="12" font-weight="normal" font-style="normal" textLength="23.93" lengthAdjust="spacingAndGlyphs" >EOT</text>
<text x="238.53" y="536.80" font-size="12" font-weight="normal" font-style="normal" textLength="6.42" lengthAdjust="spacingAndGlyphs" >n</text>
<line x1="248.40" y1="531.80" x2="256.10" y2="531.80" stroke="#111" stroke-width="1.1"/>
<line x1="248.40" y1="534.30" x2="256.10" y2="534.30" stroke="#111" stroke-width="1.1"/>
<text x="272.20" y="536.80" font-size="12" font-weight="normal" font-style="normal" textLength="14.02" lengthAdjust="spacingAndGlyphs" >14</text>
<text x="317.79" y="536.80" font-size="12" font-weight="normal" font-style="normal" textLength="14.02" lengthAdjust="spacingAndGlyphs" >13</text>
<text x="364.97" y="299.60" font-size="17.0" font-weight="bold" font-style="normal" textLength="11.68" lengthAdjust="spacingAndGlyphs" stroke="#111" stroke-width="0.55" stroke-linejoin="round">F</text>
<text x="456.18" y="309.60" font-size="14" font-weight="normal" font-style="normal" textLength="29.57" lengthAdjust="spacingAndGlyphs" >EPO</text>
<text x="444.43" y="345.50" font-size="11.5" font-weight="normal" font-style="italic" textLength="7.94" lengthAdjust="spacingAndGlyphs" >P</text>
<line x1="455.30" y1="340.60" x2="463.50" y2="340.60" stroke="#111" stroke-width="1.05"/>
<line x1="455.30" y1="343.00" x2="463.50" y2="343.00" stroke="#111" stroke-width="1.05"/>
<text x="465.86" y="345.50" font-size="11.5" font-weight="normal" font-style="normal" textLength="4.09" lengthAdjust="spacingAndGlyphs" >.</text>
<text x="470.11" y="345.50" font-size="11.5" font-weight="normal" font-style="normal" textLength="28.05" lengthAdjust="spacingAndGlyphs" >0353</text>
<line x1="433.50" y1="335.30" x2="433.50" y2="499.35" stroke="#000" stroke-width="1.6"/>
<line x1="428.90" y1="498.60" x2="433.50" y2="498.60" stroke="#000" stroke-width="1.4"/>
<text x="417.31" y="502.30" font-size="11.4" font-weight="normal" font-style="normal" textLength="6.66" lengthAdjust="spacingAndGlyphs" >0</text>
<line x1="428.90" y1="445.63" x2="433.50" y2="445.63" stroke="#000" stroke-width="1.4"/>
<text x="402.32" y="449.33" font-size="11.4" font-weight="normal" font-style="normal" textLength="21.68" lengthAdjust="spacingAndGlyphs" >100</text>
<line x1="428.90" y1="392.67" x2="433.50" y2="392.67" stroke="#000" stroke-width="1.4"/>
<text x="402.32" y="396.37" font-size="11.4" font-weight="normal" font-style="normal" textLength="21.68" lengthAdjust="spacingAndGlyphs" >200</text>
<line x1="428.90" y1="339.70" x2="433.50" y2="339.70" stroke="#000" stroke-width="1.4"/>
<text x="402.32" y="343.40" font-size="11.4" font-weight="normal" font-style="normal" textLength="21.68" lengthAdjust="spacingAndGlyphs" >300</text>
<line x1="428.60" y1="498.60" x2="509.50" y2="498.60" stroke="#000" stroke-width="1.6"/>
<line x1="448.30" y1="498.60" x2="448.30" y2="503.00" stroke="#000" stroke-width="1.4"/>
<line x1="493.60" y1="498.60" x2="493.60" y2="503.00" stroke="#000" stroke-width="1.4"/>
<text transform="translate(393.50,446.60) rotate(-90)" x="-0.82" y="0" font-size="13.8" textLength="61.45" lengthAdjust="spacingAndGlyphs" stroke="#111" stroke-width="0.4">EPO, mIU/mL</text>
<line x1="448.60" y1="379.40" x2="494.60" y2="426.90" stroke="#a81030" stroke-width="1.25"/>
<line x1="448.60" y1="385.00" x2="494.60" y2="374.75" stroke="#a81030" stroke-width="1.25"/>
<line x1="448.60" y1="415.60" x2="494.60" y2="469.40" stroke="#a81030" stroke-width="1.25"/>
<line x1="448.60" y1="419.40" x2="494.60" y2="480.00" stroke="#a81030" stroke-width="1.25"/>
<line x1="448.60" y1="429.40" x2="494.60" y2="399.40" stroke="#a81030" stroke-width="1.25"/>
<line x1="448.60" y1="433.10" x2="494.60" y2="439.40" stroke="#a81030" stroke-width="1.25"/>
<line x1="448.60" y1="442.25" x2="494.60" y2="454.75" stroke="#a81030" stroke-width="1.25"/>
<line x1="448.60" y1="449.40" x2="494.60" y2="473.10" stroke="#a81030" stroke-width="1.25"/>
<line x1="448.60" y1="455.00" x2="494.60" y2="442.50" stroke="#a81030" stroke-width="1.25"/>
<line x1="448.60" y1="457.50" x2="494.60" y2="486.90" stroke="#a81030" stroke-width="1.25"/>
<line x1="448.60" y1="460.00" x2="494.60" y2="469.40" stroke="#a81030" stroke-width="1.25"/>
<line x1="448.60" y1="472.25" x2="494.60" y2="480.00" stroke="#a81030" stroke-width="1.25"/>
<line x1="448.60" y1="489.40" x2="494.60" y2="486.90" stroke="#a81030" stroke-width="1.25"/>
<line x1="448.60" y1="432.50" x2="494.60" y2="488.75" stroke="#a81030" stroke-width="1.25"/>
<circle cx="448.6" cy="379.4" r="2.2" fill="#c40f30" stroke="#960c2a" stroke-width="0.6"/>
<circle cx="494.6" cy="426.9" r="2.2" fill="#c40f30" stroke="#960c2a" stroke-width="0.6"/>
<circle cx="448.6" cy="385.0" r="2.2" fill="#c40f30" stroke="#960c2a" stroke-width="0.6"/>
<circle cx="494.6" cy="374.75" r="2.2" fill="#c40f30" stroke="#960c2a" stroke-width="0.6"/>
<circle cx="448.6" cy="415.6" r="2.2" fill="#c40f30" stroke="#960c2a" stroke-width="0.6"/>
<circle cx="494.6" cy="469.4" r="2.2" fill="#c40f30" stroke="#960c2a" stroke-width="0.6"/>
<circle cx="448.6" cy="419.4" r="2.2" fill="#c40f30" stroke="#960c2a" stroke-width="0.6"/>
<circle cx="494.6" cy="480.0" r="2.2" fill="#c40f30" stroke="#960c2a" stroke-width="0.6"/>
<circle cx="448.6" cy="429.4" r="2.2" fill="#c40f30" stroke="#960c2a" stroke-width="0.6"/>
<circle cx="494.6" cy="399.4" r="2.2" fill="#c40f30" stroke="#960c2a" stroke-width="0.6"/>
<circle cx="448.6" cy="433.1" r="2.2" fill="#c40f30" stroke="#960c2a" stroke-width="0.6"/>
<circle cx="494.6" cy="439.4" r="2.2" fill="#c40f30" stroke="#960c2a" stroke-width="0.6"/>
<circle cx="448.6" cy="442.25" r="2.2" fill="#c40f30" stroke="#960c2a" stroke-width="0.6"/>
<circle cx="494.6" cy="454.75" r="2.2" fill="#c40f30" stroke="#960c2a" stroke-width="0.6"/>
<circle cx="448.6" cy="449.4" r="2.2" fill="#c40f30" stroke="#960c2a" stroke-width="0.6"/>
<circle cx="494.6" cy="473.1" r="2.2" fill="#c40f30" stroke="#960c2a" stroke-width="0.6"/>
<circle cx="448.6" cy="455.0" r="2.2" fill="#c40f30" stroke="#960c2a" stroke-width="0.6"/>
<circle cx="494.6" cy="442.5" r="2.2" fill="#c40f30" stroke="#960c2a" stroke-width="0.6"/>
<circle cx="448.6" cy="457.5" r="2.2" fill="#c40f30" stroke="#960c2a" stroke-width="0.6"/>
<circle cx="494.6" cy="486.9" r="2.2" fill="#c40f30" stroke="#960c2a" stroke-width="0.6"/>
<circle cx="448.6" cy="460.0" r="2.2" fill="#c40f30" stroke="#960c2a" stroke-width="0.6"/>
<circle cx="494.6" cy="469.4" r="2.2" fill="#c40f30" stroke="#960c2a" stroke-width="0.6"/>
<circle cx="448.6" cy="472.25" r="2.2" fill="#c40f30" stroke="#960c2a" stroke-width="0.6"/>
<circle cx="494.6" cy="480.0" r="2.2" fill="#c40f30" stroke="#960c2a" stroke-width="0.6"/>
<circle cx="448.6" cy="489.4" r="2.2" fill="#c40f30" stroke="#960c2a" stroke-width="0.6"/>
<circle cx="494.6" cy="486.9" r="2.2" fill="#c40f30" stroke="#960c2a" stroke-width="0.6"/>
<circle cx="448.6" cy="432.5" r="2.2" fill="#c40f30" stroke="#960c2a" stroke-width="0.6"/>
<circle cx="494.6" cy="488.75" r="2.2" fill="#c40f30" stroke="#960c2a" stroke-width="0.6"/>
<circle cx="449.0" cy="447.5" r="2.3" fill="#4a9440"/>
<circle cx="495.5" cy="469.4" r="2.3" fill="#5aa4d0"/>
<text x="440.36" y="518.70" font-size="12" font-weight="normal" font-style="normal" textLength="15.26" lengthAdjust="spacingAndGlyphs" >BL</text>
<text x="481.29" y="518.70" font-size="12" font-weight="normal" font-style="normal" textLength="23.93" lengthAdjust="spacingAndGlyphs" >EOT</text>
<text x="407.43" y="536.80" font-size="12" font-weight="normal" font-style="normal" textLength="6.42" lengthAdjust="spacingAndGlyphs" >n</text>
<line x1="417.30" y1="531.80" x2="425.00" y2="531.80" stroke="#111" stroke-width="1.1"/>
<line x1="417.30" y1="534.30" x2="425.00" y2="534.30" stroke="#111" stroke-width="1.1"/>
<text x="441.18" y="536.80" font-size="12" font-weight="normal" font-style="normal" textLength="14.02" lengthAdjust="spacingAndGlyphs" >15</text>
<text x="486.50" y="536.80" font-size="12" font-weight="normal" font-style="normal" textLength="14.02" lengthAdjust="spacingAndGlyphs" >14</text>
<rect x="0.5" y="0.5" width="519" height="549" fill="none" stroke="#222" stroke-width="1"/>
</svg>
</body></html>
